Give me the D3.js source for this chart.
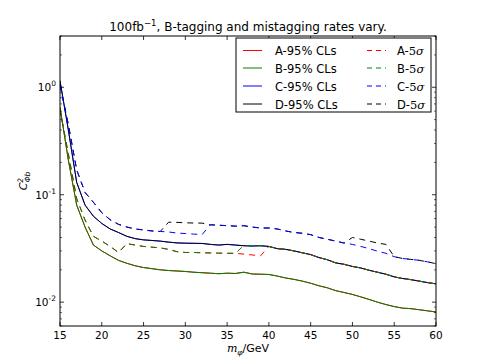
<!DOCTYPE html>
<html><head><meta charset="utf-8">
<script src="https://cdn.jsdelivr.net/npm/d3@7"></script>
<style>body{margin:0;background:#fff}svg{display:block}text{font-family:"DejaVu Sans",sans-serif}</style>
</head><body><svg id="c" width="485" height="363"></svg>
<script>
const masses = d3.range(15, 61);
const solidA = [0.65,0.21,0.08,0.05,0.034,0.030,0.027,0.0245,0.023,0.0218,0.021,0.0205,0.0200,0.0197,0.0195,0.0193,0.0190,0.0188,0.0186,0.0184,0.0186,0.0185,0.0190,0.0183,0.0182,0.0181,0.0175,0.0168,0.0163,0.0157,0.0150,0.0142,0.0136,0.0128,0.0123,0.0118,0.0112,0.0106,0.0100,0.0095,0.0091,0.0088,0.0087,0.0085,0.0083,0.0081];
const solidB = [0.65,0.21,0.08,0.05,0.034,0.030,0.027,0.0245,0.023,0.0218,0.021,0.0205,0.0200,0.0197,0.0195,0.0193,0.0190,0.0188,0.0186,0.0184,0.0186,0.0185,0.0190,0.0183,0.0182,0.0181,0.0175,0.0168,0.0163,0.0157,0.0150,0.0142,0.0136,0.0128,0.0123,0.0118,0.0112,0.0106,0.0100,0.0095,0.0091,0.0088,0.0087,0.0085,0.0083,0.0081];
const solidC = [1.15,0.40,0.13,0.08,0.063,0.054,0.048,0.0445,0.041,0.039,0.038,0.0375,0.037,0.0362,0.0356,0.0354,0.0353,0.0352,0.0345,0.034,0.0345,0.034,0.0335,0.0333,0.0335,0.033,0.0315,0.031,0.030,0.0288,0.0277,0.026,0.0248,0.0232,0.0225,0.0215,0.0208,0.0198,0.019,0.0182,0.0172,0.0166,0.0162,0.0157,0.0152,0.0148];
const solidD = [1.15,0.40,0.13,0.08,0.063,0.054,0.048,0.0445,0.041,0.039,0.038,0.0375,0.037,0.0362,0.0356,0.0354,0.0353,0.0352,0.0345,0.034,0.0345,0.034,0.0335,0.0333,0.0335,0.033,0.0315,0.031,0.030,0.0288,0.0277,0.026,0.0248,0.0232,0.0225,0.0215,0.0208,0.0198,0.019,0.0182,0.0172,0.0166,0.0162,0.0157,0.0152,0.0148];
const dashA = [0.62,0.24,0.092,0.058,0.041,0.037,0.033,0.029,0.035,0.034,0.033,0.0325,0.032,0.031,0.0295,0.029,0.029,0.0288,0.0287,0.0286,0.0285,0.0285,0.028,0.0275,0.027,0.033,0.0315,0.031,0.030,0.0288,0.0277,0.026,0.0248,0.0232,0.0225,0.0215,0.0208,0.0198,0.019,0.0182,0.0172,0.0166,0.0162,0.0157,0.0152,0.0148];
const dashB = [0.62,0.24,0.092,0.058,0.041,0.037,0.033,0.029,0.035,0.034,0.033,0.0325,0.032,0.031,0.0295,0.029,0.029,0.0288,0.0287,0.0286,0.0285,0.0285,0.0337,0.0335,0.0335,0.033,0.0315,0.031,0.030,0.0288,0.0277,0.026,0.0248,0.0232,0.0225,0.0215,0.0208,0.0198,0.019,0.0182,0.0172,0.0166,0.0162,0.0157,0.0152,0.0148];
const dashC = [1.05,0.45,0.17,0.105,0.085,0.068,0.0585,0.053,0.050,0.048,0.047,0.046,0.0455,0.045,0.044,0.0435,0.043,0.0425,0.0525,0.052,0.0515,0.051,0.0515,0.050,0.049,0.049,0.048,0.046,0.0445,0.0438,0.0425,0.040,0.0385,0.037,0.0355,0.0345,0.033,0.0315,0.0298,0.0285,0.0265,0.0255,0.025,0.0245,0.0237,0.0228];
const dashD = [1.05,0.45,0.17,0.105,0.085,0.068,0.0585,0.053,0.050,0.048,0.047,0.046,0.0455,0.0555,0.0553,0.0548,0.0545,0.0544,0.0525,0.052,0.0515,0.051,0.0515,0.050,0.049,0.049,0.048,0.046,0.0445,0.0438,0.0425,0.040,0.0385,0.037,0.0355,0.040,0.0385,0.037,0.0355,0.0345,0.0265,0.0255,0.025,0.0245,0.0237,0.0228];
const xTicks = [15,20,25,30,35,40,45,50,55,60];
const yMajor = [0.01, 0.1, 1];
const yMajorLabels = ["-2", "-1", "0"];

const svg = d3.select("#c");
const L = 60, R = 436, T = 36, B = 326;
const x = d3.scaleLinear().domain([15, 60]).range([L, R]);
const y = d3.scaleLog().domain([0.006, 3]).range([B, T]);

svg.append("rect").attr("width",485).attr("height",363).attr("fill","#fff");

const line = d3.line().x((d,i)=>x(masses[i])).y(d=>y(d));
const series = [
  {name:"A-95% CLs", data:solidA, color:"#ff0000", dash:null},
  {name:"B-95% CLs", data:solidB, color:"#008000", dash:null},
  {name:"C-95% CLs", data:solidC, color:"#0000ff", dash:null},
  {name:"D-95% CLs", data:solidD, color:"#000000", dash:null},
  {name:"A-", data:dashA, color:"#ff0000", dash:"6,5"},
  {name:"B-", data:dashB, color:"#008000", dash:"6,5"},
  {name:"C-", data:dashC, color:"#0000ff", dash:"6,5"},
  {name:"D-", data:dashD, color:"#000000", dash:"6,5"}
];
const drawOrder = [0,1,2,3,4,5,7,6];
const g = svg.append("g");
g.append("clipPath").attr("id","clip").append("rect").attr("x",L).attr("y",T).attr("width",R-L).attr("height",B-T);
drawOrder.forEach(k => {
  const s = series[k];
  g.append("path").attr("d", line(s.data)).attr("fill","none")
    .attr("stroke", s.color).attr("stroke-width",1)
    .attr("stroke-opacity", k === 3 ? 0.85 : 1)
    .attr("stroke-dasharray", s.dash).attr("clip-path","url(#clip)");
});

// frame
svg.append("rect").attr("x",L).attr("y",T).attr("width",R-L).attr("height",B-T)
  .attr("fill","none").attr("stroke","#000").attr("stroke-width",1);

// x ticks
const ax = svg.append("g");
xTicks.forEach(t => {
  ax.append("line").attr("x1",x(t)).attr("x2",x(t)).attr("y1",B).attr("y2",B-4).attr("stroke","#000").attr("stroke-width",0.8);
  ax.append("line").attr("x1",x(t)).attr("x2",x(t)).attr("y1",T).attr("y2",T+4).attr("stroke","#000").attr("stroke-width",0.8);
  ax.append("text").attr("x",x(t)).attr("y",B+13).attr("text-anchor","middle").attr("font-size",10.5).text(t);
});
// y ticks
const minors = [];
[0.001,0.01,0.1,1].forEach(dec => { for (let k=2;k<=9;k++){ const v=dec*k; if(v>=0.006 && v<=3.0001) minors.push(v);} });
minors.forEach(v => {
  ax.append("line").attr("x1",L).attr("x2",L+2).attr("y1",y(v)).attr("y2",y(v)).attr("stroke","#000").attr("stroke-width",0.6);
  ax.append("line").attr("x1",R).attr("x2",R-2).attr("y1",y(v)).attr("y2",y(v)).attr("stroke","#000").attr("stroke-width",0.6);
});
yMajor.forEach((v,i) => {
  ax.append("line").attr("x1",L).attr("x2",L+4).attr("y1",y(v)).attr("y2",y(v)).attr("stroke","#000").attr("stroke-width",0.8);
  ax.append("line").attr("x1",R).attr("x2",R-4).attr("y1",y(v)).attr("y2",y(v)).attr("stroke","#000").attr("stroke-width",0.8);
  const tx = ax.append("text").attr("x",L-4).attr("y",y(v)+4).attr("text-anchor","end").attr("font-size",10.5);
  tx.append("tspan").text("10");
  tx.append("tspan").attr("dy",-5).attr("font-size",7.5).text(yMajorLabels[i]);
});

// title
const title = svg.append("text").attr("x",(L+R)/2).attr("y",31).attr("text-anchor","middle").attr("font-size",12);
title.append("tspan").text("100fb");
title.append("tspan").attr("dy",-5).attr("font-size",8.5).text("\u22121");
title.append("tspan").attr("dy",5).text(", B-tagging and mistagging rates vary.");

// x label
const xl = svg.append("text").attr("x",(L+R)/2).attr("y",352).attr("text-anchor","middle").attr("font-size",11);
xl.append("tspan").attr("font-family","DejaVu Serif").attr("font-style","italic").text("m");
xl.append("tspan").attr("font-family","DejaVu Serif").attr("font-style","italic").attr("font-size",7.5).attr("dy",2.5).text("\u03c6");
xl.append("tspan").attr("dy",-2.5).text("/GeV");

// y label
const yl = svg.append("text").attr("transform","translate(27,181) rotate(-90)").attr("text-anchor","middle").attr("font-size",11).attr("font-family","DejaVu Serif").attr("font-style","italic");
yl.append("tspan").text("C");
yl.append("tspan").attr("font-size",7.5).attr("dy",-4.5).text("2");
yl.append("tspan").attr("font-size",7.5).attr("dx",-4.5).attr("dy",7.5).text("\u03a6b");

// legend
const lg = svg.append("g");
lg.append("rect").attr("x",236).attr("y",38).attr("width",195).attr("height",74).attr("fill","#fff").attr("stroke","#000").attr("stroke-width",1);
const rowsY = [50.5, 68, 86, 104];
series.forEach((s,i) => {
  const col = i < 4 ? 0 : 1, row = i % 4;
  const lx = col === 0 ? 243 : 367, tx = col === 0 ? 275 : 397;
  lg.append("line").attr("x1",lx).attr("x2",lx+19).attr("y1",rowsY[row]).attr("y2",rowsY[row])
    .attr("stroke",s.color).attr("stroke-width",1).attr("stroke-dasharray", s.dash ? "5,4" : null);
  const t = lg.append("text").attr("x",tx).attr("y",rowsY[row]+4.5).attr("font-size",11.5);
  t.append("tspan").text(s.name);
  if (col === 1) {
    t.append("tspan").attr("font-family","DejaVu Serif").text("5");
    t.append("tspan").attr("font-family","DejaVu Serif").attr("font-style","italic").text("\u03c3");
  }
});
</script></body></html>
